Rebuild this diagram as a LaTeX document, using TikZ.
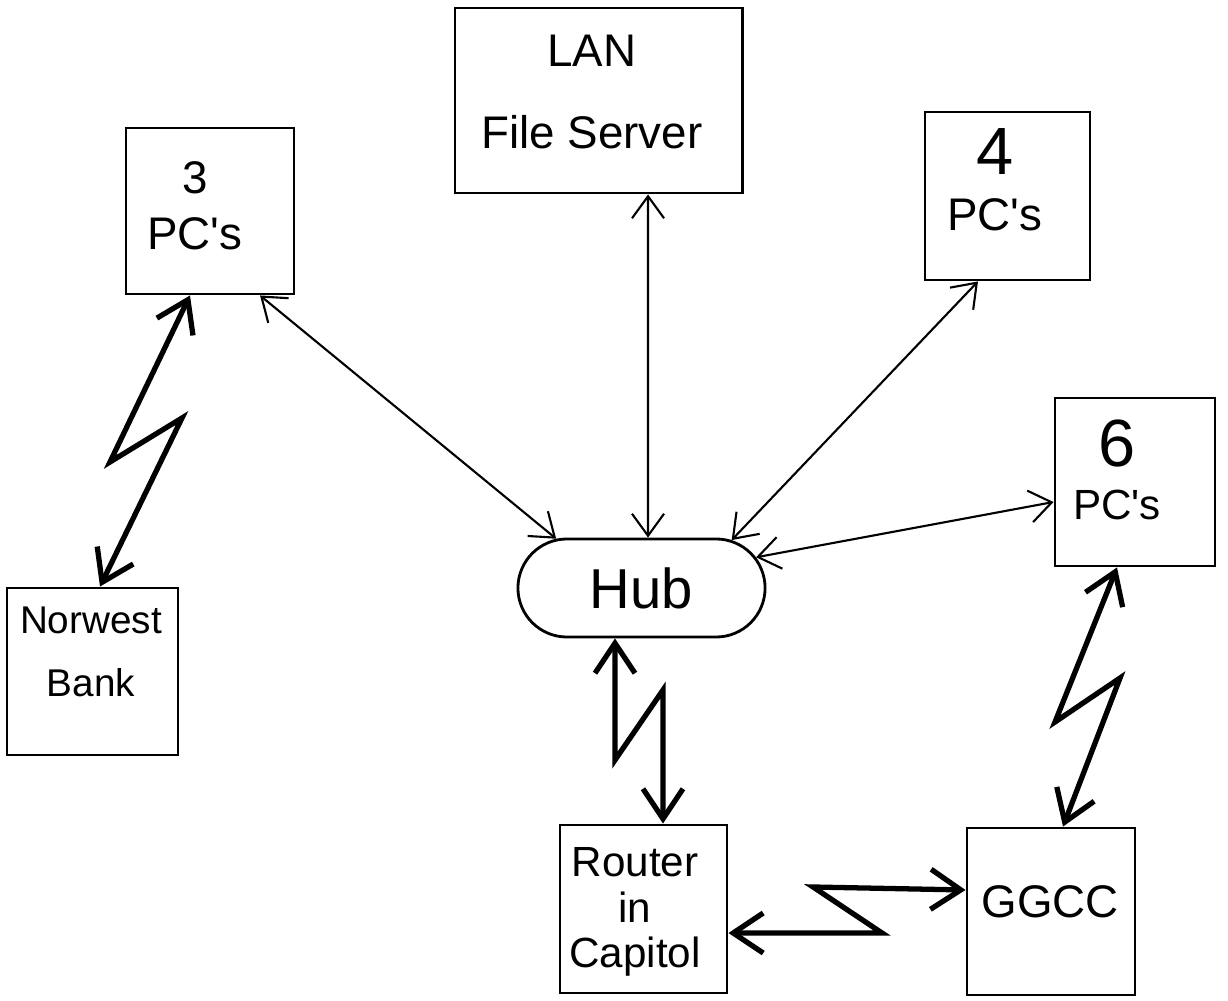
\documentclass[tikz,border=0pt]{standalone}
\usepackage{fontspec}
\setmainfont{Liberation Sans}
\usetikzlibrary{arrows.meta, shapes.misc}
\tikzset{>={Straight Barb[length=2.2mm, width=3.2mm]}}
\tikzset{
  box/.style={draw, line width=0.8pt, inner sep=0pt},
  hand/.style={align=center, font=\fontsize{13}{16}\selectfont},
  wire/.style={<->, line width=0.6pt},
  radio/.style={<->, line width=1.5pt, line join=miter,
    >={Straight Barb[length=3mm, width=4mm]}}
}
\newcommand{\pcs}{PC\textquotesingle s}

\begin{document}
\begin{tikzpicture}[x=0.01cm, y=-0.01cm]
    \useasboundingbox (0,0) rectangle (1228,1001);
    % boxes
    \node[box, minimum width=1.68cm, minimum height=1.66cm] (pc3) at (210,211) {};
    \node[box, minimum width=2.87cm, minimum height=1.85cm] (lan) at (598.5,100.5) {};
    \node[box, minimum width=1.65cm, minimum height=1.68cm] (pc4) at (1007.5,196) {};
    \node[box, minimum width=1.60cm, minimum height=1.68cm] (pc6) at (1135,482) {};
    \node[box, minimum width=1.71cm, minimum height=1.67cm] (bank) at (92.5,671.5) {};
    \node[box, minimum width=1.67cm, minimum height=1.68cm] (router) at (643.5,909) {};
    \node[box, minimum width=1.68cm, minimum height=1.67cm] (ggcc) at (1051,911.5) {};
    \node[box, rounded rectangle, minimum width=2.47cm, minimum height=0.98cm,
      font=\fontsize{16}{19}\selectfont] (hub) at (641.5,588) {Hub};
    % texts
    \node[hand] (pc3txt) at (195,206) {3\\\pcs};
    \node[hand] (lantxt) at (592,92) {LAN\\[0.25cm]File Server};
    \node[hand] (pc4txt) at (995,180) {{\fontsize{19}{19}\selectfont 4}\\\pcs};
    \node[hand, font=\fontsize{12}{15}\selectfont] (pc6txt) at (1117,470)
      {{\fontsize{19}{19}\selectfont 6}\\\pcs};
    \node[hand, font=\fontsize{11}{18}\selectfont] (banktxt) at (91,652) {Norwest\\Bank};
    \node[hand, font=\fontsize{12}{13}\selectfont] (routertxt) at (635,912)
      {Router\\in\\Capitol};
    \node[hand, font=\fontsize{13}{16}\selectfont] (ggcctxt) at (1050,902) {GGCC};
    % LAN links
    \draw[wire] ([xshift=0.5cm]pc3.south) -- (hub.150);
    \draw[wire] ([xshift=0.495cm]lan.south) -- ([xshift=0.065cm]hub.north);
    \draw[wire] ([xshift=-0.295cm]pc4.south) -- (hub.28);
    \draw[wire] ([yshift=-0.2cm]pc6.west) -- (hub.15);
    % lightning links
    \coordinate (nb1) at (110,462);
    \coordinate (nb2) at (182,418);
    \coordinate (hr1) at (615,760);
    \coordinate (hr2) at (663,690);
    \coordinate (rg1) at (882,933);
    \coordinate (rg2) at (813,887);
    \coordinate (pg1) at (1055,722);
    \coordinate (pg2) at (1120,678);
    \draw[radio] ([xshift=-0.2cm]pc3.south) -- (nb1) -- (nb2) -- ([xshift=0.075cm]bank.north);
    \draw[radio] ([xshift=-0.265cm]hub.south) -- (hr1) -- (hr2) -- ([xshift=0.195cm]router.north);
    \draw[radio] ([yshift=-0.24cm]router.east) -- (rg1) -- (rg2) -- ([yshift=0.215cm]ggcc.west);
    \draw[radio] ([xshift=-0.18cm]pc6.south) -- (pg1) -- (pg2) -- ([xshift=0.12cm]ggcc.north);
\end{tikzpicture}
\end{document}
